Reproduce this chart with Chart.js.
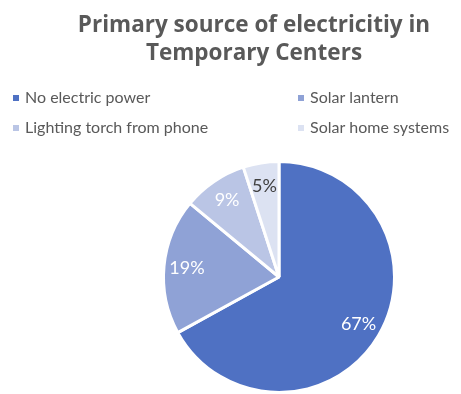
<!DOCTYPE html>
<html>
<head>
<meta charset="utf-8">
<script src="https://cdn.jsdelivr.net/npm/chart.js@4/dist/chart.umd.min.js"></script>
<style>
  html, body { margin: 0; padding: 0; background: #fff; overflow: hidden; }
  .wrap { position: relative; width: 461px; height: 394px; }
</style>
</head>
<body>
<div class="wrap"><canvas id="pieChart" width="461" height="394"></canvas></div>
<script>
// Datos
const titleLines = ['Primary source of electricitiy in', 'Temporary Centers'];
const categories = ['No electric power', 'Solar lantern', 'Lighting torch from phone', 'Solar home systems'];
const shares = [67, 19, 9, 5];
const sliceColors = ['#4F71C3', '#8FA2D6', '#BAC5E5', '#DCE2F2'];
const labelColors = ['#ffffff', '#ffffff', '#ffffff', '#404040'];

const FONT = 'Lato, "Open Sans", sans-serif';

// Titulo y leyenda dibujados en el canvas
const headerPlugin = {
    id: 'header',
    afterDraw(chart) {
        const ctx = chart.ctx;
        ctx.save();
        ctx.fillStyle = '#595959';
        ctx.font = 'bold 22.5px "Open Sans", sans-serif';
        ctx.textAlign = 'center';
        ctx.textBaseline = 'middle';
        ctx.fillText(titleLines[0], 254, 26);
        ctx.fillText(titleLines[1], 254, 54);

        // leyenda en dos columnas
        const cols = [13, 298];
        const rows = [98, 128];
        ctx.font = '16px ' + FONT;
        ctx.textAlign = 'left';
        categories.forEach((name, i) => {
            const x = cols[i % 2];
            const y = rows[Math.floor(i / 2)];
            ctx.fillStyle = sliceColors[i];
            ctx.fillRect(x, y - 3, 6, 6);
            ctx.fillStyle = '#595959';
            ctx.fillText(name, x + 12, y);
        });
        ctx.restore();
    }
};

// Etiquetas de porcentaje dentro de cada porción
const pctLabels = {
    id: 'pctLabels',
    afterDatasetsDraw(chart) {
        const ctx = chart.ctx;
        const meta = chart.getDatasetMeta(0);
        ctx.save();
        ctx.font = '18px ' + FONT;
        ctx.textAlign = 'center';
        ctx.textBaseline = 'middle';
        meta.data.forEach((arc, i) => {
            const p = arc.getProps(['x', 'y', 'startAngle', 'endAngle', 'outerRadius'], true);
            const mid = (p.startAngle + p.endAngle) / 2;
            const r = p.outerRadius * 0.8;
            ctx.fillStyle = labelColors[i];
            ctx.fillText(shares[i] + '%', p.x + Math.cos(mid) * r, p.y + Math.sin(mid) * r);
        });
        ctx.restore();
    }
};

new Chart(document.getElementById('pieChart').getContext('2d'), {
    type: 'pie',
    data: {
        labels: categories,
        datasets: [{
            data: shares,
            backgroundColor: sliceColors,
            borderColor: '#ffffff',
            borderWidth: 3,
            hoverOffset: 0
        }]
    },
    options: {
        responsive: false,
        animation: false,
        layout: { padding: { top: 160, left: 160, right: 63, bottom: 0 } },
        plugins: {
            legend: { display: false },
            title: { display: false },
            tooltip: { enabled: false }
        }
    },
    plugins: [headerPlugin, pctLabels]
});
</script>
</body>
</html>
